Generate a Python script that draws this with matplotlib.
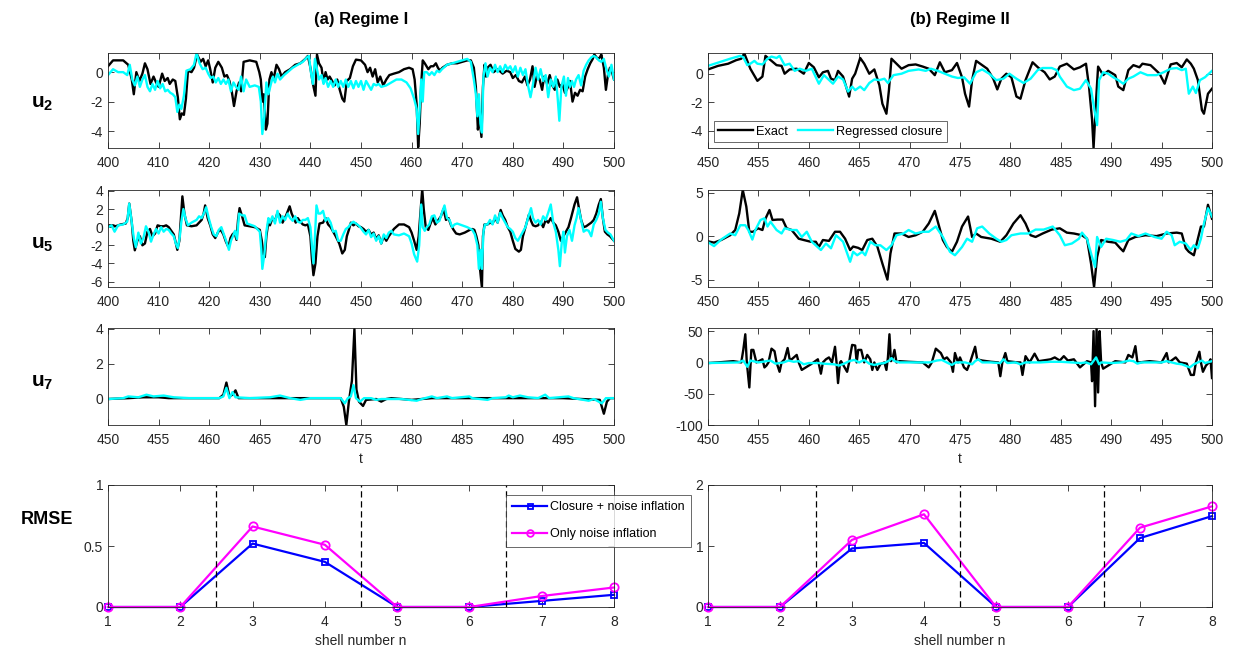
import numpy as np
import matplotlib
matplotlib.use('Agg')
import matplotlib.pyplot as plt

plt.rcParams['font.family'] = ['Liberation Sans', 'DejaVu Sans']
plt.rcParams['mathtext.fontset'] = 'custom'
plt.rcParams['mathtext.bf'] = 'Liberation Sans:bold'
plt.rcParams['mathtext.rm'] = 'Liberation Sans'
plt.rcParams['axes.unicode_minus'] = False

# ---- Regime I, u2 (t, value)
u2_a_exact = [(400, 0.4), (401, 0.8), (403, 0.8), (404, 0.5), (404.7, -0.5), (405.1, -1.5), (405.6, 0.0), (406.2, -0.6),
              (406.8, -0.1), (407.3, 0.6), (407.8, 0.2), (408.4, -0.8), (409, -0.3), (409.5, -0.7), (410, -1.0), (410.7, -0.1),
              (411.2, -0.6), (411.8, -0.4), (412.2, -0.8), (412.8, -0.5), (413.3, -0.6), (413.8, -1.7), (414.2, -3.2),
              (414.6, -2.8), (415.0, -2.9), (415.4, -1.8), (415.8, 0.1), (416.5, 0.0), (417.0, 0.3), (417.6, 1.2),
              (418.3, 0.7), (418.8, 0.9), (419.3, 0.4), (419.8, 0.8), (420.2, 0.2), (420.7, -0.7), (421.2, 0.3),
              (421.8, 0.7), (422.5, 0.3), (423.0, -0.3), (423.5, -0.2), (424.0, -0.6), (424.5, -1.4), (424.9, -2.3),
              (425.4, -1.3), (425.9, -0.7), (426.3, -1.3), (426.8, 0.7), (428.0, 0.8), (429.3, 0.7), (429.9, 0.0),
              (430.2, -0.5), (430.5, -2.0), (430.8, -1.5), (431.2, -3.9), (431.5, -3.5), (431.9, -0.5), (432.3, 0.0),
              (432.7, -0.5), (433.3, 0.5), (433.8, 0.2), (434.3, -0.3), (435, 0.0), (436, 0.2), (437, 0.5), (438, 0.6),
              (439, 0.9), (439.5, 1.1), (440.0, 0.3), (440.5, -0.8), (441.0, -1.6), (441.3, 1.2), (441.7, 0.6),
              (442.2, 0.3), (442.6, -0.7), (443, 0.0), (443.4, -0.5), (443.8, -0.3), (444.3, -0.6), (444.8, -0.9),
              (445.3, -0.5), (445.8, -1.2), (446.3, -1.8), (446.7, -2.0), (447.2, -0.6), (447.8, -0.4), (448.4, 0.4),
              (449, 0.85), (450, 0.8), (450.8, 0.5), (451.3, 0.0), (451.8, 0.3), (452.3, -0.3), (452.8, 0.2),
              (453.3, -0.7), (453.8, -0.3), (454.4, -0.9), (455, -0.5), (455.6, -0.2), (456.5, -0.1), (457.5, 0.0),
              (458.5, 0.2), (459.5, 0.3), (460.2, 0.2), (460.6, -0.5), (461.0, -2.2), (461.3, -5.1), (461.6, -3.5),
              (461.9, -0.8), (462.2, 0.8), (462.6, 0.6), (463.3, 0.2), (463.8, 0.4), (464.3, 0.4), (464.8, 0.6),
              (465.2, 0.3), (465.6, 0.1), (466.1, 0.3), (467, 0.5), (468, 0.6), (469, 0.6), (470, 0.7), (471, 0.8),
              (471.7, 0.8), (472.3, 0.3), (472.7, -1.0), (473.1, -3.9), (473.4, -3.0), (473.8, -4.4), (474.1, -1.0),
              (474.4, 0.5), (474.7, -0.3), (475.0, 0.3), (475.6, 0.5), (476.2, 0.0), (477, 0.2), (478, -0.1),
              (478.8, 0.1), (479.5, 0.0), (480, -0.4), (480.6, -0.2), (481.2, -0.6), (481.8, -0.7), (482.4, -0.3),
              (482.9, -0.9), (483.4, -0.5), (483.9, 0.4), (484.3, -1.0), (484.8, -0.2), (485.3, -0.5), (485.8, -1.2),
              (486.2, -0.3), (486.8, -0.8), (487.3, -0.2), (487.8, -0.9), (488.3, -1.2), (488.8, -0.5), (489.3, -1.0),
              (489.8, -0.8), (490.3, -1.4), (490.8, -1.1), (491.3, -0.6), (491.8, -2.0), (492.3, -1.4), (492.8, -1.6),
              (493.3, -1.2), (493.8, -1.3), (494.3, -0.3), (494.8, 0.2), (495.3, 0.6), (495.8, 0.9), (496.1, 1.2),
              (496.8, 0.9), (497.2, 1.0), (497.5, 1.2), (498.0, 0.3), (498.4, -1.2), (498.8, -0.2), (499.2, 0.3),
              (499.6, 0.0), (500, -0.5)]
u2_a_closure = [(400, -0.2), (401, 0.2), (402, 0.0), (403, 0.0), (403.8, -0.2), (404.3, 0.5), (404.8, -0.5), (405.3, -0.9),
                (405.8, -0.3), (406.3, -1.0), (406.8, -0.5), (407.3, -0.2), (407.8, -1.0), (408.3, -1.3), (408.8, -0.8),
                (409.3, -1.2), (409.8, -0.6), (410.3, -1.1), (410.8, -0.8), (411.3, -1.3), (411.8, -1.2), (412.3, -1.4),
                (412.8, -1.5), (413.3, -1.7), (413.7, -2.7), (414.1, -2.2), (414.5, -2.5), (415.0, -1.6), (415.5, 0.1),
                (416.3, 0.2), (417.0, 0.5), (417.5, 1.3), (418.1, 0.6), (418.7, 0.2), (419.3, 0.3), (419.8, -0.1),
                (420.3, -0.4), (420.8, -0.3), (421.3, -0.7), (421.8, -0.4), (422.3, -0.8), (422.8, -0.5), (423.3, -0.8),
                (423.8, -0.5), (424.3, -1.3), (424.8, -0.7), (425.3, -1.0), (425.8, -1.2), (426.3, -0.3), (426.8, -1.3),
                (427.3, -0.5), (428, -1.0), (429, -0.9), (429.8, -1.0), (430.2, -2.0), (430.5, -4.2), (430.9, -3.0),
                (431.3, -0.7), (431.7, -1.5), (432.2, -0.8), (432.6, -0.3), (433, -0.7), (433.5, -0.1), (434, -0.5),
                (434.8, -0.2), (435.5, 0.0), (436.5, 0.3), (437.5, 0.5), (438.5, 0.7), (439.3, 1.0), (439.7, 1.1),
                (440.1, 0.0), (440.5, -0.8), (440.9, 0.9), (441.3, 0.2), (441.7, -0.5), (442.2, -0.2), (442.6, -0.8),
                (443, -0.4), (443.5, -1.0), (444, -0.6), (444.5, -1.0), (445, -0.5), (445.5, -1.0), (446, -0.6),
                (446.5, -1.0), (447, -0.5), (447.5, -1.0), (448, -0.6), (448.5, -1.1), (449, -0.6), (449.5, -1.0),
                (450, -0.6), (450.5, -1.2), (451, -0.6), (451.5, -0.9), (452, -1.2), (452.5, -0.8), (453, -0.9),
                (453.5, -0.8), (454, -1.0), (455, -0.9), (456, -0.7), (457, -0.5), (458, -0.5), (459, -0.7),
                (459.8, -1.1), (460.5, -1.8), (461.0, -2.5), (461.3, -4.2), (461.6, -2.5), (461.9, -0.5), (462.2, -2.0),
                (462.5, 0.0), (463, 0.0), (463.5, -0.2), (464, 0.0), (464.5, -0.2), (465, 0.1), (465.5, 0.0), (466, 0.2),
                (467, 0.5), (468, 0.6), (469, 0.7), (470, 0.8), (471, 0.9), (471.7, 0.7), (472.3, -0.5), (472.7, -1.5),
                (473.0, -3.0), (473.3, -1.5), (473.6, -3.5), (473.9, -4.1), (474.2, -0.3), (474.6, 0.6), (475, -0.3),
                (475.5, 0.3), (476, 0.0), (476.5, 0.5), (477, 0.0), (477.5, 0.4), (478, 0.0), (478.5, 0.5), (479, 0.2),
                (479.5, 0.4), (480, 0.0), (480.5, 0.4), (481, -0.3), (481.5, 0.3), (482, -0.2), (482.5, 0.2),
                (483, -0.9), (483.5, -1.7), (484, -0.8), (484.5, 0.3), (485, -0.5), (485.5, 0.2), (486, -0.6),
                (486.5, -0.2), (487, -1.7), (487.5, -0.5), (488, -1.0), (488.5, -0.3), (488.9, -1.9), (489.2, -3.3),
                (489.6, -1.0), (490.1, -0.3), (490.5, -1.6), (490.9, -0.4), (491.3, -1.0), (491.7, -0.6), (492.1, -1.0),
                (492.5, -0.5), (493, -0.2), (493.5, -0.9), (494, 0.1), (494.5, 0.5), (495, 0.8), (495.5, 1.0),
                (496, 1.1), (496.5, 1.0), (497, 0.8), (497.5, 0.7), (498, 0.9), (498.5, 0.2), (499, -0.3), (499.5, 0.5),
                (500, -0.5)]

# ---- Regime I, u5
u5_a_exact = [(400, 0.2), (401, 0.2), (401.5, 0.1), (402.5, 0.3), (403.5, 0.4), (403.9, 1.0), (404.2, 2.6), (404.7, 0.5),
              (405.0, -1.5), (405.3, -2.55), (405.8, -1.5), (406.3, -1.0), (406.8, -2.0), (407.3, -1.8), (407.8, -0.5),
              (408.3, -0.2), (408.8, -1.0), (409.3, -0.7), (409.8, 0.2), (410.4, 0.1), (411, 0.1), (411.5, 0.2), (412, 0.0),
              (412.5, -0.4), (413, -0.8), (413.3, -1.5), (413.7, -2.5), (414.1, -1.5), (414.4, 1.0), (414.7, 3.4),
              (415.1, 1.5), (415.6, 0.2), (416.5, 0.1), (417.5, 0.2), (418, 0.5), (418.5, 0.8), (418.9, 1.5),
              (419.2, 2.4), (419.7, 1.0), (420.2, 0.2), (420.7, -0.8), (421.2, -1.2), (421.8, -0.5), (422.3, -0.3),
              (422.8, -0.8), (423.3, -1.6), (423.8, -2.2), (424.2, -1.2), (424.6, -0.8), (425.0, -0.6), (425.4, -1.4),
              (425.7, 0.8), (426.0, 2.1), (426.5, 1.2), (427.0, 0.2), (428, 0.1), (429, 0.0), (430, -0.3), (430.4, -1.5),
              (430.7, -3.0), (431.0, -3.3), (431.3, -1.0), (431.7, 0.6), (432, 0.2), (432.5, 1.0), (433, 0.7),
              (433.5, 1.6), (434, 1.3), (434.5, 0.5), (435.2, 1.3), (435.9, 2.3), (436.3, 1.5), (436.7, 1.0),
              (437.1, 0.5), (437.5, 1.0), (438, 0.6), (438.5, 0.3), (439, 0.2), (439.5, 0.3), (440.0, -1.0),
              (440.3, -3.5), (440.6, -5.3), (441.0, -4.0), (441.4, -1.0), (441.8, 0.4), (442.5, 0.5), (443, 1.0),
              (443.5, 0.3), (444, 0.0), (444.5, -0.5), (445, -1.0), (445.7, -1.8), (446.3, -2.9), (446.8, -2.5),
              (447.2, -1.0), (447.6, -0.3), (448, 0.5), (448.5, 0.2), (449, 0.4), (449.5, 0.1), (450, 0.0),
              (450.5, -0.2), (451, -0.5), (451.5, -0.3), (452, -0.8), (452.5, -0.6), (453, -1.3), (453.5, -0.9),
              (454, -1.8), (454.5, -1.0), (455, -1.5), (455.5, -1.0), (456, -0.6), (456.5, -0.2), (457.5, 0.3),
              (458.5, 0.3), (459.5, 0.0), (460, -0.6), (460.5, -1.5), (461, -2.5), (461.4, -1.0), (461.8, 2.0),
              (462.1, 4.2), (462.4, 2.0), (462.8, 0.0), (463.3, -0.3), (463.8, 0.5), (464.2, 1.0), (464.7, 0.3),
              (465.2, 0.7), (465.8, 1.2), (466.3, 2.0), (466.8, 0.8), (467.3, 1.0), (467.8, 0.2), (468.3, -0.3),
              (468.8, -0.7), (469.5, -0.8), (470.5, -0.6), (471.5, -0.3), (472, -0.2), (472.4, -0.3), (472.8, -1.0),
              (473.2, -2.0), (473.5, -4.5), (473.9, -6.7), (474.1, -1.0), (474.4, 0.3), (475, 0.3), (475.5, 0.5),
              (476, 0.4), (476.5, 1.0), (477, 0.5), (477.6, 1.9), (478, 1.3), (478.5, 0.8), (479, 0.0), (479.5, -0.5),
              (480, -1.5), (480.5, -2.4), (481.2, -2.7), (481.6, -2.5), (482, -1.0), (482.5, 0.0), (483.2, 1.4),
              (483.6, 0.7), (484, 0.2), (484.5, 0.1), (485, 0.2), (485.5, 0.6), (486, 0.0), (486.5, 0.8), (487, 0.5),
              (487.5, 1.0), (488, 0.5), (488.5, 0.2), (489, -0.5), (489.5, -1.5), (490, -1.0), (490.5, -0.5),
              (491, 0.0), (491.5, 1.0), (492.2, 2.5), (492.7, 3.3), (493.1, 2.0), (493.5, 0.8), (494, 0.0),
              (494.5, 0.1), (495, 0.3), (495.5, 0.5), (496, 0.8), (496.5, 1.5), (497, 2.5), (497.4, 3.1), (497.8, 1.0),
              (498.2, -0.5), (498.7, -0.8), (499.2, -1.0), (500, -1.5)]
u5_a_closure = [(400, 0.0), (400.7, 0.2), (401.3, -0.5), (402, 0.2), (403, 0.3), (403.8, 0.6), (404.2, 2.6), (404.7, 0.5),
                (405.1, -1.2), (405.5, -2.2), (406.0, -0.6), (406.5, -1.8), (407.0, -1.2), (407.5, 0.1), (408, -0.5),
                (408.5, -1.6), (409, -0.8), (409.5, -0.2), (410, -0.7), (410.5, 0.0), (411, -0.5), (411.5, -0.2),
                (412, -0.3), (412.5, -0.7), (413, -1.0), (413.4, -1.8), (413.8, -2.3), (414.2, -1.0), (414.5, 0.6),
                (414.9, 2.0), (415.3, 1.0), (415.8, 0.2), (416.5, 0.5), (417.5, 0.8), (418, 1.2), (418.5, 1.0),
                (419, 1.6), (419.4, 2.2), (419.9, 1.0), (420.4, 0.0), (420.9, -0.8), (421.4, -1.0), (421.9, -0.3),
                (422.4, 0.0), (422.9, -0.8), (423.4, -1.6), (423.9, -2.5), (424.3, -1.5), (424.7, -1.0), (425.1, -0.4),
                (425.5, -1.3), (425.9, 1.5), (426.5, 1.3), (427, 1.3), (427.5, 0.4), (428, 0.3), (429, 0.1),
                (430, -0.5), (430.3, -2.5), (430.5, -4.6), (430.9, -3.0), (431.3, -0.5), (431.7, 1.0), (432, 0.5),
                (432.5, 1.2), (433, 0.4), (433.5, 1.8), (434, 0.5), (434.5, 1.2), (435, 0.8), (435.5, 1.5), (436, 1.0),
                (436.5, 0.7), (437, 1.2), (437.5, 0.6), (438, 0.5), (438.5, 0.8), (439, 0.8), (439.5, 1.0), (440, 0.0),
                (440.3, -2.0), (440.6, -4.0), (440.9, -1.0), (441.2, 2.4), (441.6, 1.5), (442, 1.5), (442.5, 1.8),
                (443, 0.7), (443.5, 1.0), (444, 0.5), (444.5, -0.5), (445, -0.4), (445.5, -1.5), (446, -1.5),
                (446.5, -0.8), (447, -0.2), (447.5, 0.0), (448, 0.4), (448.5, 0.6), (449, 0.4), (449.5, 0.2),
                (450, -0.1), (450.5, -0.5), (451, -0.8), (451.5, -0.3), (452, -1.1), (452.5, -0.7), (453, -1.5),
                (453.5, -1.0), (454, -1.8), (454.5, -0.8), (455, -1.2), (455.5, -0.6), (456, -0.4), (456.5, -0.8),
                (457.5, -0.9), (458.5, -0.7), (459.5, -1.0), (460, -1.8), (460.5, -3.0), (461.1, -3.8), (461.5, -2.0),
                (461.9, 2.5), (462.2, 0.0), (462.6, -0.4), (463, 0.0), (463.5, 0.3), (464, 1.2), (464.5, 1.3),
                (465, 0.5), (465.5, 0.7), (466, 1.6), (466.5, 2.4), (467, 1.0), (467.5, 0.8), (468, 0.0), (468.5, 0.3),
                (469, 0.4), (470, 0.2), (471, 0.0), (472, -0.3), (472.5, -0.8), (473, -2.0), (473.3, -4.6),
                (473.6, -2.5), (473.9, -4.6), (474.2, -0.5), (474.5, 0.3), (475, 0.3), (475.5, 0.8), (476, 0.3),
                (476.5, 1.3), (477, 0.5), (477.5, 1.6), (478, 1.0), (478.5, 0.5), (479, 0.0), (479.5, -0.2),
                (480, -0.5), (480.5, -1.2), (481, -1.5), (481.5, -1.0), (482, -0.5), (482.5, 0.0), (483, 1.0),
                (483.6, 2.1), (484, 1.0), (484.5, 0.5), (485, 0.8), (485.5, 0.3), (486, 1.2), (486.5, 0.8), (487, 1.6),
                (487.5, 2.5), (488, 0.5), (488.5, -0.5), (489, -2.5), (489.3, -4.3), (489.7, -1.5), (490, -0.5),
                (490.3, -2.8), (490.7, -1.0), (491.2, -0.3), (491.7, -1.5), (492.2, 0.2), (492.6, 1.0), (493, 2.1),
                (493.5, 0.8), (494, -0.5), (494.5, -0.3), (495, -0.4), (495.5, -1.0), (496, 0.3), (496.5, 0.8),
                (497, 1.5), (497.4, 2.8), (497.8, 1.0), (498.3, -0.3), (498.8, -0.6), (499.3, -0.8), (500, -1.5)]

# ---- Regime I, u7
u7_a_exact = [(450, -0.05), (452, 0.0), (453.5, 0.05), (455, 0.05), (456, 0.0), (461, 0.0), (461.4, 0.2), (461.7, 0.9),
              (462.0, 0.1), (462.3, 0.2), (462.6, 0.45), (462.9, 0.0), (465, 0.0), (470, 0.0), (473, 0.0), (473.3, -0.5),
              (473.55, -1.55), (473.8, -0.2), (474.1, 1.0), (474.35, 4.0), (474.55, 0.5), (474.8, -0.2), (475.2, -0.45),
              (475.5, -0.1), (476.5, -0.05), (477, -0.2), (477.5, -0.05), (478, 0.0), (480, -0.1), (482, 0.0),
              (490, 0.0), (495, 0.0), (498.6, -0.1), (499.0, -0.9), (499.3, -0.2), (499.6, 0.0), (500, 0.0)]
u7_a_closure = [(450, -0.05), (451.5, 0.0), (452, 0.1), (453, 0.05), (453.8, 0.2), (454.5, 0.1), (455.5, 0.15), (456.5, 0.05),
                (458, 0.0), (461, 0.0), (461.4, 0.1), (461.7, 0.6), (462, 0.0), (462.3, 0.35), (462.6, 0.05), (464, 0.0),
                (466, 0.05), (467, 0.15), (468, 0.0), (469, -0.1), (470, 0.0), (473, 0.0), (473.4, -0.3), (473.7, 0.0),
                (474.0, 0.1), (474.25, 0.75), (474.5, 0.0), (474.9, -0.2), (475.3, 0.0), (476, 0.0), (476.5, -0.1),
                (477, -0.05), (479, -0.05), (480.5, -0.15), (481, -0.05), (482, 0.1), (482.5, 0.0), (483.5, 0.1),
                (484, 0.0), (485.7, 0.1), (486, 0.0), (487.5, -0.1), (488, 0.0), (489.3, 0.05), (489.6, 0.15),
                (490, 0.05), (490.7, 0.15), (491.5, 0.05), (492.5, 0.0), (493.2, 0.2), (493.6, 0.0), (495.5, 0.1),
                (496, 0.0), (497.5, -0.15), (498, -0.05), (498.8, -0.3), (499.2, 0.0), (500, 0.0)]

# ---- Regime II, u2
u2_b_exact = [(450, 0.3), (451, 0.55), (452, 0.7), (452.8, 0.95), (453.3, 1.05), (453.6, 1.43), (454.2, 0.35), (454.9, -0.5),
              (455.4, -0.2), (455.7, 1.25), (456.3, 0.9), (456.8, 0.6), (457.3, 0.55), (457.6, 0.0), (458.1, 0.3),
              (458.8, 0.35), (459.5, 0.0), (460.0, 0.75), (460.5, 0.45), (461.0, -0.25), (461.4, 0.1), (461.9, 0.2),
              (462.2, -0.35), (462.6, -0.45), (462.9, 0.2), (463.4, -0.2), (464.0, -1.6), (464.3, -0.35), (464.6, 0.0),
              (465.1, 1.1), (465.5, 0.7), (466.0, 0.0), (466.5, 0.3), (467.0, -0.8), (467.3, -2.1), (467.7, -2.8),
              (467.95, -1.15), (468.2, 1.05), (468.7, 0.7), (469.2, 0.35), (469.9, 0.6), (470.6, 0.65), (471.3, 0.5),
              (471.9, 0.35), (472.5, -0.1), (473.0, 0.8), (473.5, 0.1), (474.2, 0.25), (474.7, 0.75), (475.2, -0.25),
              (475.5, -1.4), (475.9, -2.3), (476.2, -0.45), (476.6, 0.9), (477.1, 0.65), (477.7, 0.35), (478.3, -0.35),
              (478.7, -1.1), (479.1, -0.35), (479.6, 0.0), (480.1, -0.25), (480.6, -1.6), (481.0, -1.75),
              (481.5, -0.45), (482.2, 0.8), (482.8, 0.4), (483.4, 0.1), (483.9, -0.4), (484.4, -0.2), (484.9, 0.5),
              (485.6, 0.7), (486.3, 0.3), (486.9, 0.45), (487.5, 0.7), (487.8, -0.9), (488.1, -3.2), (488.25, -5.2),
              (488.5, -1.85), (488.7, 0.5), (489.2, -0.1), (489.7, 0.2), (490.4, -0.1), (490.7, -0.9), (491.2, -1.15),
              (491.7, 0.25), (492.2, 0.6), (492.8, 0.45), (493.1, 0.7), (493.9, 0.6), (494.8, 0.0), (495.3, -0.7),
              (495.9, 0.65), (496.5, 0.75), (497.0, 0.45), (497.5, 1.0), (497.9, 0.7), (498.2, 0.35), (498.6, -0.45),
              (499.0, -2.55), (499.2, -2.8), (499.6, -1.4), (500, -1.05)]
u2_b_closure = [(450, 0.55), (451.1, 0.8), (452.2, 1.05), (453.2, 1.25), (453.5, 1.15), (453.9, 0.6), (454.2, 0.7),
                (454.6, 0.9), (454.9, 0.7), (455.4, 0.65), (455.9, 1.05), (456.3, 1.2), (456.8, 1.1), (457.1, 1.25),
                (457.6, 0.6), (458.1, 0.7), (458.6, 0.2), (459.1, 0.35), (459.7, 0.2), (460.3, 0.35), (461.0, -0.7),
                (461.5, -0.1), (462.4, -0.7), (462.9, -0.2), (463.4, -0.4), (463.9, -1.25), (464.3, -0.9),
                (464.6, -1.15), (465.1, -0.9), (465.5, -1.15), (466.0, -0.65), (466.5, -0.4), (467.0, -0.45),
                (467.5, -0.35), (467.85, -0.65), (468.4, -0.1), (469.2, 0.0), (469.9, 0.2), (470.9, 0.3), (471.6, 0.2),
                (472.1, 0.35), (472.8, 0.2), (473.5, 0.0), (474.2, -0.2), (474.8, -0.3), (475.4, -0.25), (476.0, -0.7),
                (476.6, 0.1), (477.2, 0.3), (477.9, 0.0), (478.6, -0.45), (479.3, -0.35), (479.9, 0.0), (480.6, -0.35),
                (481.3, -0.65), (482.0, -0.35), (482.7, 0.25), (483.2, 0.4), (484.1, 0.4), (484.6, 0.25), (484.9, -0.2),
                (485.6, -0.9), (486.3, -1.15), (486.9, -1.05), (487.5, -0.45), (488.0, -1.05), (488.3, -2.4),
                (488.6, -3.6), (488.8, -0.45), (489.2, 0.1), (489.7, 0.0), (490.2, -0.25), (490.7, -0.45), (491.2, -0.7),
                (491.7, -0.35), (492.2, -0.2), (492.9, 0.1), (493.6, -0.1), (494.5, -0.1), (495.2, 0.1), (495.9, 0.35),
                (496.5, 0.4), (497.0, 0.25), (497.4, 0.35), (497.7, -1.4), (498.1, -0.9), (498.4, -1.35),
                (498.8, -0.45), (499.3, -0.25), (500, 0.2)]

# ---- Regime II, u5
u5_b_exact = [(450, -0.6), (450.6, -0.75), (451.3, -0.45), (452.2, 0.1), (452.7, 0.7), (453.1, 2.6), (453.45, 5.3),
              (453.8, 3.4), (454.1, 0.5), (454.5, 0.5), (454.95, 0.9), (455.4, 0.7), (455.7, 2.0), (456.1, 3.0),
              (456.4, 1.85), (456.9, 1.9), (457.4, 1.9), (457.8, 0.9), (458.3, 0.7), (459.0, -0.3), (459.5, -0.45),
              (460.2, -0.65), (460.7, -0.65), (461.0, -1.25), (461.4, -0.45), (462.0, -0.55), (462.6, 0.5),
              (463.1, 0.5), (463.6, -0.3), (464.1, -1.6), (464.4, -1.2), (464.9, -1.35), (465.3, -1.6),
              (465.8, -0.45), (466.3, -0.3), (466.8, -1.2), (467.3, -3.15), (467.8, -5.0), (468.1, -2.0),
              (468.5, 0.3), (469.2, 0.3), (469.9, -0.1), (470.6, 0.1), (471.3, 0.5), (471.9, 1.45), (472.5, 2.9),
              (472.8, 1.65), (473.3, -0.45), (473.7, -1.25), (474.2, -1.8), (474.7, -0.65), (475.2, 1.1),
              (475.8, 2.25), (476.2, -0.1), (476.6, 0.3), (477.1, -0.1), (478.1, -0.3), (479.0, -0.65), (479.6, 0.1),
              (480.3, 1.45), (481.0, 2.4), (481.5, 1.45), (482.0, 0.1), (482.5, -0.1), (483.2, 0.3), (484.1, 0.75),
              (484.9, 0.9), (485.6, 0.4), (486.3, 0.3), (487.1, 0.1), (487.6, -0.3), (488.0, -3.15), (488.3, -5.85),
              (488.6, -2.4), (489.0, -0.45), (489.7, -0.65), (490.4, -0.75), (490.9, -1.4), (491.2, -1.75),
              (491.7, -0.45), (492.4, -0.1), (493.4, 0.1), (494.5, 0.0), (495.5, 0.3), (496.5, 0.4), (497.0, 0.3),
              (497.4, -1.4), (497.7, -1.8), (498.2, -2.2), (498.6, -0.3), (498.9, 1.1), (499.2, 1.1), (499.6, 3.6),
              (500, 2.0)]
u5_b_closure = [(450, -0.7), (450.6, -1.15), (451.3, -0.4), (452.2, 0.3), (452.7, 0.1), (453.2, 1.25), (453.7, 1.25),
                (454.0, 0.7), (454.4, -0.4), (454.7, 0.7), (455.2, 1.85), (455.6, 2.05), (455.9, 1.1), (456.2, 1.65),
                (456.8, 0.7), (457.3, 0.3), (457.6, 0.9), (458.3, 0.7), (458.8, 0.7), (459.3, -0.1), (459.8, 0.5),
                (460.3, -0.65), (461.2, -1.6), (461.7, -0.85), (462.2, -1.4), (462.7, 0.1), (463.4, -0.65),
                (464.1, -2.95), (464.4, -1.8), (464.8, -2.2), (465.3, -1.8), (465.6, -2.2), (466.1, -0.65),
                (466.6, -1.05), (467.1, -1.05), (467.7, -1.6), (468.2, -1.05), (468.7, 0.1), (469.4, 0.3), (469.9, 0.7),
                (470.6, 0.3), (471.3, 0.5), (471.9, 0.5), (472.6, 1.1), (473.3, -0.1), (474.0, -1.8), (474.5, -2.2),
                (474.8, -1.8), (475.2, -1.25), (475.7, -0.3), (476.2, -0.65), (476.7, 0.9), (477.2, 1.1), (477.9, 0.3),
                (478.6, -0.3), (479.1, -0.65), (479.6, -0.45), (480.1, 0.1), (481.0, 0.3), (481.8, 0.3), (482.5, 0.75),
                (483.3, 0.75), (484.2, 1.1), (484.9, 0.1), (485.4, -1.05), (486.1, -0.85), (486.8, -0.3), (487.1, 0.4),
                (487.6, -0.3), (488.1, -2.4), (488.4, -3.55), (488.6, -0.1), (489.0, -1.25), (489.5, -0.3),
                (490.2, -0.45), (490.9, -0.65), (491.5, -0.45), (492.0, 0.3), (492.7, 0.0), (493.4, 0.3),
                (494.3, -0.1), (495.0, -0.3), (495.5, 0.5), (496.0, 0.1), (496.3, -1.05), (496.8, -0.65),
                (497.4, -0.85), (497.9, -1.6), (498.2, -1.05), (498.6, -1.4), (498.9, -0.3), (499.2, 1.45),
                (499.6, 3.2), (500, 2.25)]

# ---- Regime II, u7
u7_b_exact = [(450, -1), (451, 0), (452.5, 2), (453.3, 0), (453.5, 20), (453.7, 45), (453.85, 0), (454.1, -40), (454.3, 20),
              (454.5, 20), (454.8, 0), (455.4, 5), (455.6, -8), (455.8, -5), (456.0, 0), (456.3, 22), (456.6, 18),
              (456.8, 0), (457.1, -15), (457.3, 0), (457.6, 5), (457.9, 23), (458.1, 5), (458.3, 5), (458.8, 12),
              (459.0, 0), (459.3, -12), (459.7, -8), (460.2, -3), (460.9, 5), (461.2, -18), (461.4, 0), (461.7, 5),
              (462.0, 8), (462.3, 0), (462.6, 25), (462.75, 0), (462.9, -33), (463.1, 0), (463.2, 2), (463.8, -15),
              (464.0, 0), (464.1, 10), (464.3, 28), (464.6, 27), (464.75, 0), (464.9, 20), (465.2, 20), (465.5, 0),
              (465.8, 12), (466.1, 5), (466.3, -12), (466.5, 0), (466.8, -12), (467.1, -3), (467.5, 0), (467.7, -12),
              (467.85, 8), (468.0, 45), (468.15, 2), (468.3, 5), (468.5, 20), (468.7, 0), (469.0, 2), (469.9, 1),
              (471.3, 0), (471.9, -8), (472.2, 0), (472.6, 22), (473.1, 15), (473.4, 5), (473.7, 8), (474.1, 0),
              (474.3, -15), (474.4, 0), (474.5, 15), (474.8, 0), (475.0, 8), (475.2, 0), (475.4, -8), (475.7, -12),
              (476.0, 0), (476.2, 10), (476.5, 25), (476.7, 5), (477.2, 3), (478.1, 1), (478.8, 0), (479.0, -22),
              (479.2, 0), (479.5, 15), (479.7, 2), (480.7, 0), (481.0, 0), (481.2, -20), (481.4, 0), (481.5, 10),
              (481.9, 0), (482.4, 14), (482.8, 2), (484.0, 5), (484.4, 8), (484.9, 3), (485.3, 10), (485.7, 3),
              (486.3, 5), (486.9, -8), (487.6, 2), (488.0, 0), (488.1, -30), (488.25, 50), (488.4, -70), (488.55, 55),
              (488.7, -48), (488.85, 50), (489.0, 0), (489.2, -10), (489.7, -5), (490.4, 2), (491.4, 0), (491.7, 12),
              (492.1, 8), (492.4, 26), (492.6, 0), (492.8, 0), (493.8, 2), (495.0, 0), (495.5, 15), (495.7, 0),
              (495.9, 2), (496.4, 8), (496.8, 0), (497.5, -2), (497.9, -20), (498.2, -20), (498.4, 0), (498.6, 10),
              (498.75, 17), (498.9, 0), (499.1, -15), (499.4, -5), (499.7, 0), (499.85, 5), (500, -25)]
u7_b_closure = [(450, -1), (453, 0), (453.5, 3), (453.9, -7), (454.2, 3), (455, 0), (456.2, 3), (456.7, -2), (457.5, 0),
                (458, 3), (458.5, 1), (459, 2), (459.5, -3), (460, -1), (461, -1), (461.5, -2), (462.5, -3), (463, -5),
                (463.5, -2), (464, 2), (464.5, 4), (465, 0), (465.5, 4), (466, -2), (466.5, -4), (467, -2), (467.5, -1),
                (468, 3), (468.2, 7), (468.5, 2), (469, 0), (470, 0), (471, 0), (472, 0), (472.7, 3), (473.2, 4),
                (473.8, -1), (474.2, -4), (474.6, 0), (475.5, 0), (476.2, -3), (476.5, 2), (476.8, 5), (477.2, 0),
                (478, 0), (479, -1), (479.3, 5), (479.7, -1), (480.5, 0), (481, -3), (481.5, 0), (483, 0), (484, 1),
                (485, 1), (486, 0), (487, -1), (487.5, 0), (488, -3), (488.5, 8), (488.8, -3), (489, 0), (490, -1),
                (491, 0), (491.8, 3), (492.2, 2), (492.6, -2), (493, 0), (495, 0), (495.5, 2), (496, 0), (496.5, -2),
                (497, -3), (497.8, -8), (498.2, -3), (498.6, 0), (499, 3), (499.3, -1), (500, 2)]

# ---- RMSE per shell
shells = [1, 2, 3, 4, 5, 6, 7, 8]
rmse_a_closure = [0, 0, 0.52, 0.37, 0, 0, 0.05, 0.10]
rmse_a_noise = [0, 0, 0.66, 0.51, 0, 0, 0.09, 0.16]
rmse_b_closure = [0, 0, 0.96, 1.05, 0, 0, 1.13, 1.49]
rmse_b_noise = [0, 0, 1.10, 1.52, 0, 0, 1.30, 1.65]
dash_x = [2.5, 4.5, 6.5]

W, H = 1235, 653
fig = plt.figure(figsize=(W / 100, H / 100), dpi=100)
gray = '#262626'


def add_ax(x0, y_top, x1, y_bot):
    ax = fig.add_axes([x0 / W, 1 - y_bot / H, (x1 - x0) / W, (y_bot - y_top) / H])
    ax.tick_params(direction='in', top=True, right=True, labelsize=10, colors=gray, length=4, width=0.6)
    ax.tick_params(axis='x', pad=5.5)
    ax.tick_params(axis='y', pad=3.5)
    for s in ax.spines.values():
        s.set_color(gray)
        s.set_linewidth(0.6)
    return ax


rows = [(53, 148), (190, 287), (328, 425), (485, 607)]
cols = [(108, 614), (708, 1212)]


def ts(ax, exact, closure, xlim, ylim, yticks, xticks):
    te, ve = np.array(exact).T
    tc, vc = np.array(closure).T
    l1, = ax.plot(te, ve, color='k', lw=1.7, label='Exact')
    l2, = ax.plot(tc, vc, color='cyan', lw=1.7, label='Regressed closure')
    ax.set_xlim(*xlim)
    ax.set_ylim(*ylim)
    ax.set_yticks(yticks)
    ax.set_xticks(xticks)
    return l1, l2


# Regime I
ax = add_ax(cols[0][0], rows[0][0], cols[0][1], rows[0][1])
ts(ax, u2_a_exact, u2_a_closure, (400, 500), (-5.15, 1.3), [-4, -2, 0], range(400, 501, 10))
ax.set_title('(a) Regime I', fontsize=12, fontweight='bold', pad=21)
ax = add_ax(cols[0][0], rows[1][0], cols[0][1], rows[1][1])
ts(ax, u5_a_exact, u5_a_closure, (400, 500), (-6.6, 4.1), [-6, -4, -2, 0, 2, 4], range(400, 501, 10))
ax = add_ax(cols[0][0], rows[2][0], cols[0][1], rows[2][1])
ts(ax, u7_a_exact, u7_a_closure, (450, 500), (-1.55, 4.05), [0, 2, 4], range(450, 501, 5))
ax.set_xlabel('t', fontsize=10, color=gray, labelpad=4)

# Regime II
ax = add_ax(cols[1][0], rows[0][0], cols[1][1], rows[0][1])
l1, l2 = ts(ax, u2_b_exact, u2_b_closure, (450, 500), (-5.2, 1.45), [-4, -2, 0], range(450, 501, 5))
ax.set_title('(b) Regime II', fontsize=12, fontweight='bold', pad=21)
leg = ax.legend(loc='lower left', ncol=2, fontsize=9.2, frameon=True, fancybox=False, edgecolor=gray,
                borderaxespad=0.45, handlelength=2.7, columnspacing=0.8, handletextpad=0.25, borderpad=0.35)
leg.get_frame().set_linewidth(0.6)
ax = add_ax(cols[1][0], rows[1][0], cols[1][1], rows[1][1])
ts(ax, u5_b_exact, u5_b_closure, (450, 500), (-5.85, 5.3), [-5, 0, 5], range(450, 501, 5))
ax = add_ax(cols[1][0], rows[2][0], cols[1][1], rows[2][1])
ts(ax, u7_b_exact, u7_b_closure, (450, 500), (-100, 55), [-100, -50, 0, 50], range(450, 501, 5))
ax.set_xlabel('t', fontsize=10, color=gray, labelpad=4)

# RMSE panels
for ci, (rc, rn, ylim, yt) in enumerate([(rmse_a_closure, rmse_a_noise, (0, 1), [0, 0.5, 1]),
                                         (rmse_b_closure, rmse_b_noise, (0, 2), [0, 1, 2])]):
    ax = add_ax(cols[ci][0], rows[3][0], cols[ci][1], rows[3][1])
    ax.plot(shells, rc, color='blue', lw=1.6, marker='s', ms=4.5, mfc='none', mew=1.3,
            label='Closure + noise inflation', clip_on=False)
    ax.plot(shells, rn, color='magenta', lw=1.6, marker='o', ms=6, mfc='none', mew=1.3,
            label='Only noise inflation', clip_on=False)
    for xd in dash_x:
        ax.axvline(xd, color='k', ls=(0, (5, 3)), lw=0.9)
    ax.set_xlim(1, 8)
    ax.set_ylim(*ylim)
    ax.set_yticks(yt)
    ax.set_yticklabels([f'{v:g}' for v in yt])
    ax.set_xticks(shells)
    ax.set_xlabel('shell number n', fontsize=10, color=gray, labelpad=4)
    if ci == 0:
        leg2 = ax.legend(loc='upper left', bbox_to_anchor=(506 / W, 1 - 495 / H), bbox_transform=fig.transFigure,
                         fontsize=9, frameon=True, fancybox=False, edgecolor=gray, borderaxespad=0,
                         handlelength=2.8, labelspacing=1.2, borderpad=0.5, handletextpad=0.2, markerscale=0.8)
        leg2.get_frame().set_linewidth(0.6)

# row labels
for y, lab in [(103, r'$\mathbf{u_2}$'), (245, r'$\mathbf{u_5}$'), (382, r'$\mathbf{u_7}$')]:
    fig.text(42 / W, 1 - y / H, lab, fontsize=15, ha='center', va='center')
fig.text(47 / W, 1 - 520 / H, 'RMSE', fontsize=13, fontweight='bold', ha='center', va='center')

fig.savefig('out.png', dpi=100)
